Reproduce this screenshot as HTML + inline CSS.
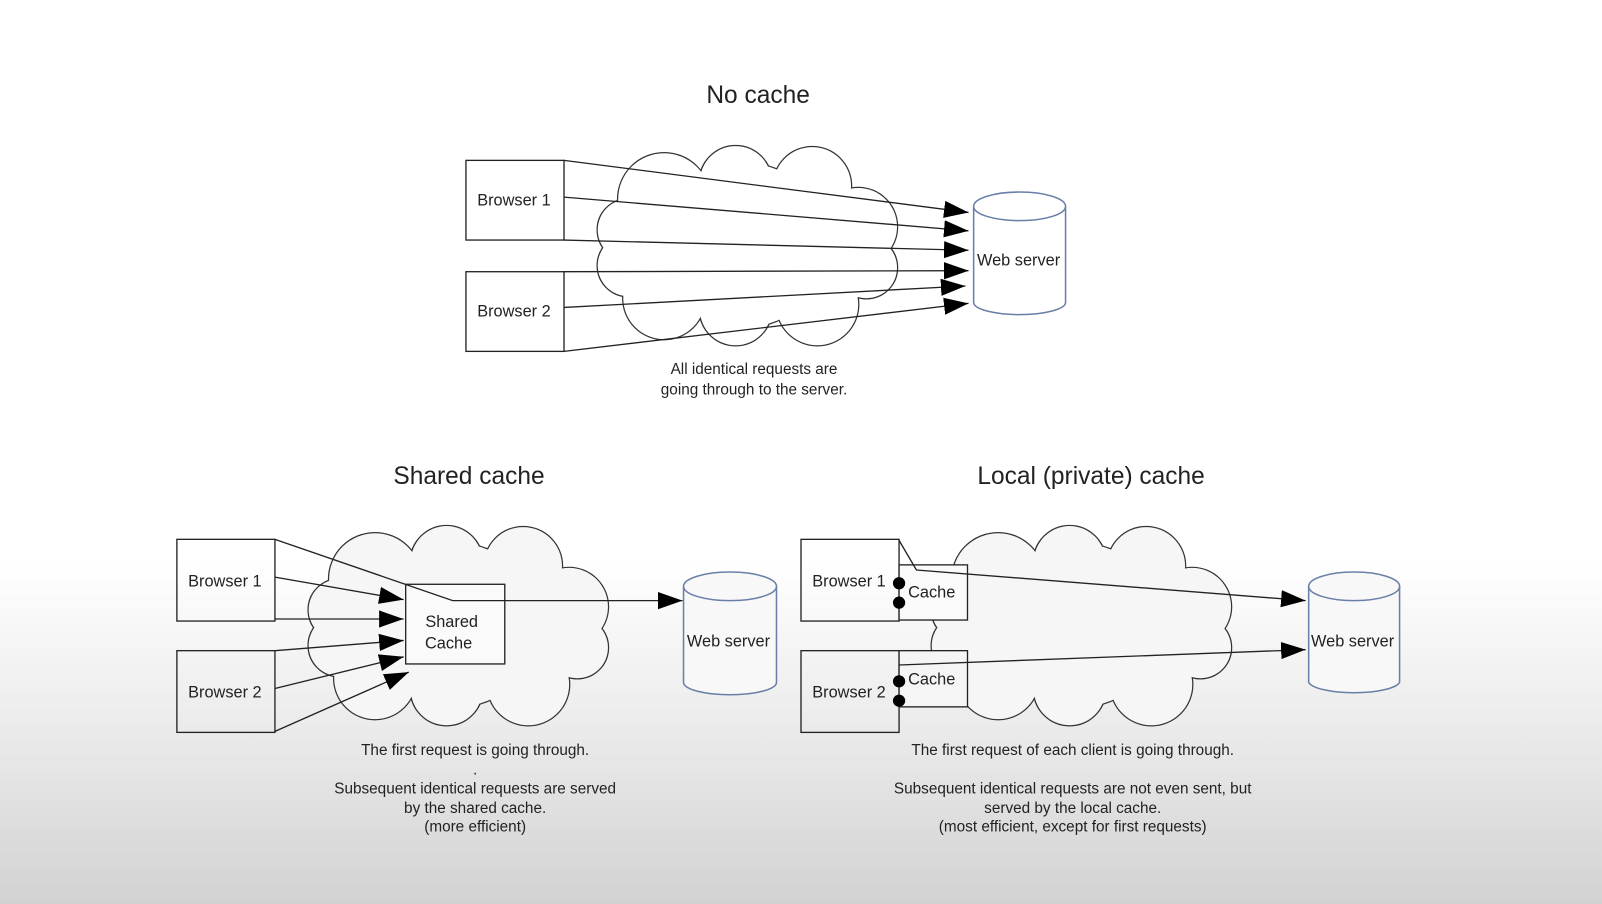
<!DOCTYPE html>
<html><head><meta charset="utf-8"><style>
html,body{margin:0;padding:0;}
body{width:1602px;height:904px;overflow:hidden;background:linear-gradient(#fff 0px,#fff 560px,#ececec 720px,#d2d2d2 904px);}
svg{display:block}
text{font-family:"Liberation Sans",sans-serif;fill:#222}
</style></head><body>
<svg width="1602" height="904" viewBox="0 0 1568 885" xmlns="http://www.w3.org/2000/svg">
<defs>
<g id="cs">
<circle cx="650" cy="195" r="45"/><circle cx="720" cy="178" r="35"/><circle cx="795" cy="182" r="38"/>
<circle cx="840" cy="222" r="38"/><circle cx="848" cy="262" r="30"/><circle cx="800" cy="298" r="40"/>
<circle cx="720" cy="303" r="35"/><circle cx="650" cy="292" r="40"/><circle cx="615" cy="260" r="30"/>
<circle cx="615" cy="225" r="30"/><circle cx="730" cy="240" r="80"/>
<circle cx="670" cy="245" r="62"/><circle cx="795" cy="245" r="60"/>
</g>
<marker id="ar" viewBox="0 0 10 10" refX="10" refY="5" markerWidth="24" markerHeight="24" markerUnits="userSpaceOnUse" orient="auto"><path d="M0,1.5 L10,5 L0,8.5z" fill="#000"/></marker>
</defs>
<g>
<g stroke="#333" stroke-width="2.4" fill="none"><use href="#cs"/></g><g fill="#fff"><use href="#cs"/></g>
</g>
<g transform="translate(-283,372)"><g stroke="#333" stroke-width="2.4" fill="none"><use href="#cs"/></g><g fill="#f6f6f6"><use href="#cs"/></g></g>
<g transform="translate(327,372)"><g stroke="#333" stroke-width="2.4" fill="none"><use href="#cs"/></g><g fill="#f6f6f6"><use href="#cs"/></g></g>

<g stroke="#222" stroke-width="1.3" fill="none">
<rect x="456" y="157" width="96" height="78"/><rect x="456" y="266" width="96" height="78"/>
<g marker-end="url(#ar)">
<line x1="552" y1="157" x2="948" y2="208"/><line x1="552" y1="193" x2="948" y2="226"/>
<line x1="552" y1="235" x2="948" y2="245"/><line x1="552" y1="266" x2="948" y2="265"/>
<line x1="552" y1="301" x2="945" y2="280"/><line x1="552" y1="344" x2="948" y2="297"/>
</g>
<rect x="173" y="528" width="96" height="80"/><rect x="173" y="637" width="96" height="80"/>
<rect x="397" y="572" width="97" height="78" fill="#fafafa"/>
<polyline points="269,528 443,588 668,588" marker-end="url(#ar)"/>
<g marker-end="url(#ar)">
<line x1="269" y1="565" x2="395" y2="587"/><line x1="269" y1="606" x2="395" y2="606"/>
<line x1="269" y1="637" x2="395" y2="627"/><line x1="269" y1="674" x2="395" y2="643"/>
<line x1="269" y1="716" x2="400" y2="658"/>
</g>
<rect x="784" y="528" width="96" height="80"/><rect x="784" y="637" width="96" height="80"/>
<rect x="880" y="553" width="67" height="54" fill="#fafafa"/><rect x="880" y="637" width="67" height="55" fill="#f5f5f5"/>
<polyline points="880,529 897,558 1278,588" marker-end="url(#ar)"/>
<line x1="880" y1="651" x2="1278" y2="636" marker-end="url(#ar)"/>
</g>
<g fill="#000"><circle cx="880" cy="571" r="6"/><circle cx="880" cy="590" r="6"/><circle cx="880" cy="667" r="6"/><circle cx="880" cy="686" r="6"/></g>

<g stroke="#6a7fa8" stroke-width="1.5" fill="#fff">
<path d="M953,202 V296 A45,12 0 0 0 1043,296 V202"/><ellipse cx="998" cy="202" rx="45" ry="14"/>
<path d="M669,574 V668 A45,12 0 0 0 760,668 V574" fill="#f8f8f8"/><ellipse cx="714.5" cy="574" rx="45.5" ry="14" fill="#f8f8f8"/>
<path d="M1281,574 V668 A45,12 0 0 0 1370,668 V574" fill="#f8f8f8"/><ellipse cx="1325.5" cy="574" rx="44.5" ry="14" fill="#f8f8f8"/>
</g>

<g font-size="16">
<text x="503" y="201" text-anchor="middle">Browser 1</text><text x="503" y="310" text-anchor="middle">Browser 2</text>
<text x="997" y="260" text-anchor="middle">Web server</text>
<text x="220" y="574" text-anchor="middle">Browser 1</text><text x="220" y="683" text-anchor="middle">Browser 2</text>
<text x="713" y="633" text-anchor="middle">Web server</text>
<text x="831" y="574" text-anchor="middle">Browser 1</text><text x="831" y="683" text-anchor="middle">Browser 2</text>
<text x="912" y="585" text-anchor="middle">Cache</text><text x="912" y="670" text-anchor="middle">Cache</text>
<text x="1324" y="633" text-anchor="middle">Web server</text>
<text x="442" y="614" text-anchor="middle">Shared</text><text x="439" y="635" text-anchor="middle">Cache</text>
</g>
<g font-size="24">
<text x="742" y="101" text-anchor="middle">No cache</text>
<text x="459" y="474" text-anchor="middle">Shared cache</text>
<text x="1068" y="474" text-anchor="middle">Local (private) cache</text>
</g>
<g font-size="15" text-anchor="middle">
<text x="738" y="366">All identical requests are</text>
<text x="738" y="386">going through to the server.</text>
<text x="465" y="739">The first request is going through.</text>
<text x="465" y="758">.</text>
<text x="465" y="777">Subsequent identical requests are served</text>
<text x="465" y="796">by the shared cache.</text>
<text x="465" y="814">(more efficient)</text>
<text x="1050" y="739">The first request of each client is going through.</text>
<text x="1050" y="777">Subsequent identical requests are not even sent, but</text>
<text x="1050" y="796">served by the local cache.</text>
<text x="1050" y="814">(most efficient, except for first requests)</text>
</g>
</svg>
</body></html>
